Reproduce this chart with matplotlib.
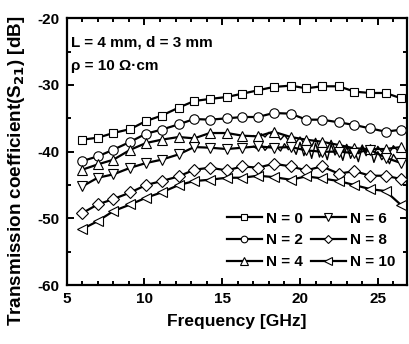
import matplotlib
matplotlib.use("Agg")
import matplotlib.pyplot as plt
import numpy as np
from matplotlib.ticker import MultipleLocator

plt.rcParams["font.family"] = ["Liberation Sans", "DejaVu Sans"]
plt.rcParams["font.weight"] = "bold"
plt.rcParams["mathtext.default"] = "bf"
plt.rcParams["axes.unicode_minus"] = False

# frequency of each marked sample [GHz]
freq = [6.0, 7.0, 8.0, 9.1, 10.1, 11.1, 12.2, 13.2, 14.2, 15.3, 16.3,
        17.3, 18.3, 19.4, 20.4, 21.4, 22.5, 23.5, 24.5, 25.5, 26.5]

# S21 [dB]
s21_n0 = [-38.2, -37.9, -37.2, -36.6, -35.4, -34.6, -33.4, -32.4, -32.1, -31.8, -31.3,
          -30.8, -30.3, -30.1, -30.5, -30.2, -30.2, -31.0, -31.2, -31.2, -32.0]
s21_n2 = [-41.4, -40.7, -39.7, -38.5, -37.3, -36.7, -35.9, -35.1, -35.2, -35.0, -34.8,
          -34.8, -34.2, -34.3, -35.2, -35.2, -35.6, -36.0, -36.5, -37.0, -36.7]
s21_n4 = [-42.7, -41.9, -41.2, -39.7, -38.7, -38.2, -37.8, -38.0, -37.2, -37.2, -37.6,
          -37.7, -37.0, -37.8, -38.2, -38.5, -39.0, -39.5, -39.6, -39.6, -39.3]
s21_n6 = [-45.2, -43.9, -43.4, -42.4, -41.7, -41.2, -40.4, -39.3, -39.4, -39.6, -39.4,
          -39.2, -39.4, -39.3, -39.8, -40.0, -40.0, -40.2, -39.7, -40.9, -41.7]
s21_n8 = [-49.2, -47.9, -47.1, -46.1, -45.0, -44.4, -43.7, -42.7, -42.4, -42.8, -42.2,
          -42.4, -41.8, -42.2, -42.8, -42.2, -43.3, -42.9, -43.6, -43.6, -44.1]
s21_n10 = [-51.6, -50.4, -48.9, -47.9, -46.9, -46.1, -45.0, -44.4, -44.2, -43.9, -43.9,
           -43.6, -43.8, -44.2, -43.7, -44.0, -44.4, -45.0, -45.6, -45.9, -48.0]

# jagged high-frequency part of the N = 4 and N = 6 traces (estimated)
freq_fine = np.arange(17.0, 26.6, 0.25)
fine_n4 = [-37.6, -37.9, -37.3, -37.8, -37.1, -37.6, -37.4, -38.2, -37.5, -38.3,
           -37.7, -38.6, -37.8, -38.8, -38.1, -39.2, -38.0, -39.4, -38.4, -39.6,
           -38.3, -39.7, -38.8, -40.0, -38.9, -40.1, -39.3, -40.3, -39.0, -40.2,
           -39.4, -40.4, -39.2, -40.0, -39.5, -40.2, -39.1, -39.8, -39.3]
fine_n6 = [-39.2, -39.6, -38.9, -39.8, -39.1, -39.5, -39.3, -39.9, -38.8, -39.7,
           -39.2, -40.4, -38.6, -40.6, -39.0, -41.0, -38.7, -40.8, -39.4, -41.2,
           -38.9, -40.5, -39.6, -41.3, -39.2, -41.0, -39.8, -41.5, -39.3, -40.6,
           -39.5, -41.6, -40.0, -41.2, -40.6, -41.8, -40.4, -41.3, -41.7]

series = [
    ("N = 0", s21_n0, "s"),
    ("N = 2", s21_n2, "o"),
    ("N = 4", s21_n4, "^"),
    ("N = 6", s21_n6, "v"),
    ("N = 8", s21_n8, "D"),
    ("N = 10", s21_n10, "<"),
]

fig = plt.figure(figsize=(4.09, 3.44), dpi=100)
ax = fig.add_axes([0.163, 0.171, 0.833, 0.776])

ax.plot(freq_fine, fine_n4, color="black", lw=1.0, zorder=2)
ax.plot(freq_fine, fine_n6, color="black", lw=1.0, zorder=2)

for label, vals, mk in series:
    ms = {"s": 6.4, "o": 6.8, "D": 5.8}.get(mk, 7.6)
    ax.plot(freq, vals, color="black", lw=1.6, marker=mk, ms=ms,
            mfc="white", mec="black", mew=0.8, label=label, zorder=3)

ax.set_xlim(5, 26.9)
ax.set_ylim(-60, -20)
ax.xaxis.set_major_locator(MultipleLocator(5))
ax.xaxis.set_minor_locator(MultipleLocator(1))
ax.yaxis.set_major_locator(MultipleLocator(10))
ax.yaxis.set_minor_locator(MultipleLocator(5))
ax.tick_params(which="both", direction="in", top=True, right=True, width=1.4,
               labelsize=11, pad=5)
ax.tick_params(which="major", length=5)
ax.tick_params(which="minor", length=3)
for sp in ax.spines.values():
    sp.set_linewidth(1.6)

ax.set_xlabel("Frequency [GHz]", fontsize=12.5, fontweight="bold", labelpad=6)
ax.set_ylabel("Transmission coefficient(S$_{21}$) [dB]", fontsize=13.6, fontweight="bold")
ax.yaxis.set_label_coords(-0.115, 0.43)

ax.text(5.25, -23.7, "L = 4 mm, d = 3 mm", fontsize=11, fontweight="bold", va="center")
ax.text(5.25, -27.2, "ρ = 10 Ω·cm", fontsize=11, fontweight="bold", va="center")

leg = ax.legend(ncol=2, loc="lower right", bbox_to_anchor=(1.0, 0.015), frameon=False,
                fontsize=11, markerscale=0.7, handlelength=2.3, handletextpad=0.25,
                columnspacing=0.55, labelspacing=0.5, borderaxespad=0.4)

fig.savefig("out.png", dpi=100)
